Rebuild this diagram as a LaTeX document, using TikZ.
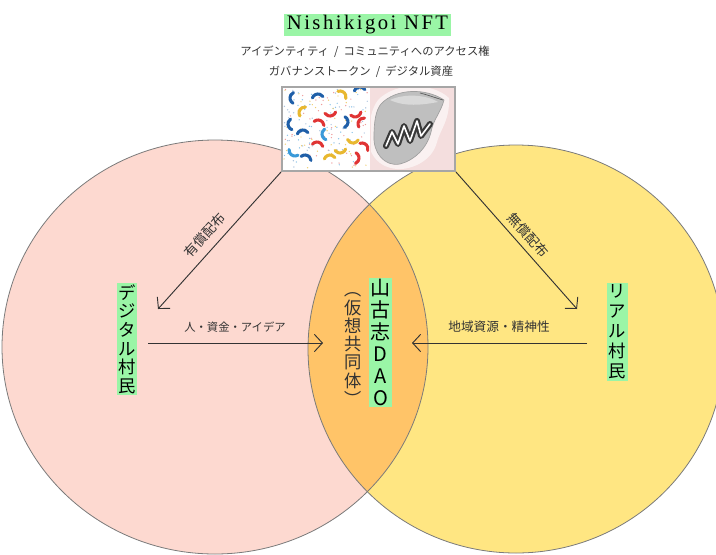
\documentclass[tikz,border=0pt]{standalone}
\usepackage{fontspec}
\setmainfont{Liberation Serif}
\newfontfamily\jp{Noto Sans CJK JP}
\newfontfamily\titlefont[LetterSpace=12]{Liberation Serif}
\usetikzlibrary{arrows.meta}

\definecolor{pinkfill}{HTML}{FDD9D0}
\definecolor{yellowfill}{HTML}{FFE682}
\definecolor{orangefill}{HTML}{FFC468}
\definecolor{hl}{HTML}{9AF5A6}
\definecolor{rim}{HTML}{7A7A7A}
\definecolor{ink}{HTML}{333333}
\definecolor{koiblue}{HTML}{1F5FA8}
\definecolor{koisky}{HTML}{3A9AD9}
\definecolor{koired}{HTML}{E03434}
\definecolor{koiyellow}{HTML}{E8B830}
\definecolor{inkpink}{HTML}{F4DEDE}

% vertical-writing parentheses
\newcommand{\vopen}{\rotatebox[origin=c]{-90}{（}}
\newcommand{\vclose}{\rotatebox[origin=c]{-90}{）}}
\newcommand{\slashsep}{\hspace{0.45em}/\hspace{0.45em}}

\tikzset{
  conn/.style={draw=ink, line width=0.7pt, -{Straight Barb[length=6pt,width=13pt]}},
  vlabel/.style={fill=hl, align=center, inner xsep=1.2pt, inner ysep=1pt, text=black},
  arrowlabel/.style={text=ink, inner sep=0pt},
}

\begin{document}
\begin{tikzpicture}[x=0.75pt,y=-0.75pt]
\useasboundingbox (0,0) rectangle (716,554);

% two overlapping circles of the Venn diagram
\fill[pinkfill] (215,347) ellipse [x radius=213, y radius=207];
\fill[yellowfill] (516,349) ellipse [x radius=208, y radius=204];
\begin{scope}
  \clip (215,347) ellipse [x radius=213, y radius=207];
  \fill[orangefill] (516,349) ellipse [x radius=208, y radius=204];
\end{scope}
\draw[rim, line width=0.6pt] (215,347) ellipse [x radius=213, y radius=207];
\draw[rim, line width=0.6pt] (516,349) ellipse [x radius=208, y radius=204];

% NFT artwork: koi pattern (left) and ink koi (right)
\fill[white] (282,87) rectangle (370,171);
\fill[inkpink] (370,87) rectangle (455,171);
\begin{scope}
  \clip (283,88) rectangle (369,170);
  \pgfmathsetseed{11}
  \foreach \c in {koisky!60, koiyellow!70, koired!50, koiblue!40} {
    \foreach \i in {1,...,45} {
      \pgfmathsetmacro\px{284+rnd*84}
      \pgfmathsetmacro\py{89+rnd*80}
      \fill[\c] (\px,\py) circle [radius=0.7];
    }
  }
  \foreach \x/\y/\a/\c in {
      296/98/120/koiblue, 318/100/200/koiblue, 340/97/250/koiyellow, 360/93/200/koiblue,
      305/113/150/koiyellow, 330/110/20/koired, 355/111/10/koired,
      294/124/110/koiblue, 318/126/230/koired, 342/122/300/koiblue, 364/124/150/koired,
      303/136/200/koiblue, 328/134/110/koisky, 353/137/30/koiyellow,
      295/150/60/koisky, 317/148/220/koired, 340/147/20/koiyellow, 362/149/250/koired,
      305/161/230/koiblue, 330/161/200/koiyellow, 353/158/300/koired} {
    \draw[\c, line width=2.3pt, line cap=round]
      ([shift={(\a:6)}]\x,\y) arc [start angle=\a, delta angle=125, radius=6];
  }
\end{scope}
\begin{scope}
  \clip (371,88) rectangle (454,170);
  % soft halo around the fish
  \fill[white, opacity=0.6] (378,100) .. controls (395,82) and (432,82) .. (449,98)
     .. controls (450,120) and (440,130) .. (437,142)
     .. controls (432,162) and (410,170) .. (397,169)
     .. controls (374,167) and (366,148) .. (369,132)
     .. controls (370,118) and (372,108) .. (378,100) -- cycle;
  % body of the carp
  \fill[gray!50, draw=gray!75, line width=0.5pt]
     (381,104) .. controls (396,88) and (426,88) .. (444,100)
     .. controls (441,112) and (433,120) .. (431,132)
     .. controls (427,148) and (415,160) .. (400,164)
     .. controls (384,167) and (373,152) .. (374,136)
     .. controls (374,121) and (376,110) .. (381,104) -- cycle;
  \fill[gray!30] (390,100) .. controls (405,93) and (427,95) .. (438,102)
     .. controls (422,105) and (405,107) .. (390,100) -- cycle;
  \draw[gray!70!black, line width=0.5pt] (420,93) .. controls (428,95) and (436,98) .. (443,100);
  % brush stroke on the body
  \draw[gray!45!black, line width=4.5pt, line join=round, line cap=round]
     (386,146) -- (392,132) -- (398,144) -- (404,126) -- (410,141) -- (417,121) -- (421,136) -- (430,124);
  \draw[white, line width=1.2pt, line join=round, line cap=round]
     (386,146) -- (392,132) -- (398,144) -- (404,126) -- (410,141) -- (417,121) -- (421,136) -- (430,124);
\end{scope}
\node[draw=gray!70, line width=1.3pt, minimum width=129.75pt, minimum height=63pt,
      inner sep=0pt] (nft) at (368.5,129) {};

% title and captions
\node[fill=hl, inner xsep=2.5pt, inner ysep=1.2pt, text=black,
      font=\titlefont\fontsize{15.5}{16}\selectfont] (title) at (367.5,24.5) {Nishikigoi NFT};
\node[text=ink, font=\jp\fontsize{8.5}{9}\selectfont] (cap1) at (365,52)
  {アイデンティティ\slashsep コミュニティへのアクセス権};
\node[text=ink, font=\jp\fontsize{8.5}{9}\selectfont] (cap2) at (361,72)
  {ガバナンストークン\slashsep デジタル資産};

% vertical labels
\node[vlabel, font=\jp\fontsize{13}{14}\selectfont] (digi) at (127,339)
  {デ\\ジ\\タ\\ル\\村\\民};
\node[vlabel, font=\jp\fontsize{13}{15}\selectfont] (real) at (617.5,332)
  {リ\\ア\\ル\\村\\民};
\node[vlabel, font=\jp\fontsize{15}{16.4}\selectfont] (dao) at (380.5,342.5)
  {山\\古\\志\\D\\A\\O};
\node[align=center, text=ink, inner sep=0pt, font=\jp\fontsize{13}{13.7}\selectfont] (vc) at (353,344)
  {\vopen\\仮\\想\\共\\同\\体\\\vclose};

% connectors
\coordinate (dtip) at (158,309);
\coordinate (rtip) at (577,309);
\coordinate (dstart) at (148,343);
\coordinate (dend) at (323,343);
\coordinate (rstart) at (587,343);
\coordinate (rend) at (412,343);
\draw[conn] (nft.south west) -- (dtip);
\draw[conn] (nft.south east) -- (rtip);
\draw[conn] (dstart) -- (dend);
\draw[conn] (rstart) -- (rend);

% connector labels
\node[arrowlabel, rotate=48, font=\jp\fontsize{10}{11}\selectfont] (paid) at (205,235) {有償配布};
\node[arrowlabel, rotate=-48, font=\jp\fontsize{10}{11}\selectfont] (free) at (528,235) {無償配布};
\node[arrowlabel, font=\jp\fontsize{8.5}{10}\selectfont] (dflow) at (235,327) {人・資金・アイデア};
\node[arrowlabel, font=\jp\fontsize{9.5}{10}\selectfont] (rflow) at (499,327) {地域資源・精神性};
\end{tikzpicture}
\end{document}
